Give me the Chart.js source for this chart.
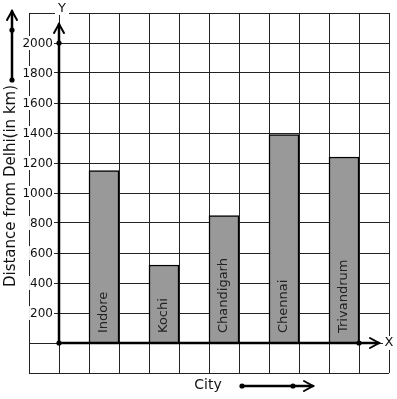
<!DOCTYPE html>
<html>
<head>
<meta charset="utf-8">
<script src="https://cdn.jsdelivr.net/npm/chart.js@4"></script>
<style>
  html, body { margin: 0; padding: 0; background: #fff; }
  #wrap { width: 397px; height: 399px; }
</style>
</head>
<body>
<div id="wrap"><canvas id="chart" width="397" height="399"></canvas></div>
<script>
// ============================================
// Data
// ============================================

const cities = ['Indore', 'Kochi', 'Chandigarh', 'Chennai', 'Trivandrum'];
const cityX = [1.5, 3.5, 5.5, 7.5, 9.5];        // centre of each bar in grid units
const distances = [1150, 520, 850, 1390, 1240];  // km from Delhi
const yTickLabels = [200, 400, 600, 800, 1000, 1200, 1400, 1600, 1800, 2000];

const FONT = "'DejaVu Sans', sans-serif";

// ============================================
// Drawing helpers
// ============================================

function dot(ctx, x, y) {
  ctx.beginPath();
  ctx.arc(x, y, 2.6, 0, Math.PI * 2);
  ctx.fill();
}

function chevron(ctx, tipX, tipY, dir) {
  // dir: 'up' or 'right'
  ctx.beginPath();
  if (dir === 'up') {
    ctx.moveTo(tipX - 5, tipY + 9);
    ctx.lineTo(tipX, tipY);
    ctx.lineTo(tipX + 5, tipY + 9);
  } else {
    ctx.moveTo(tipX - 9, tipY - 5);
    ctx.lineTo(tipX, tipY);
    ctx.lineTo(tipX - 9, tipY + 5);
  }
  ctx.stroke();
}

// axes, arrows, tick labels and bar labels drawn on top of the grid
const decorPlugin = {
  id: 'decor',
  afterDatasetsDraw(chart) {
    const ctx = chart.ctx;
    const xs = chart.scales.x;
    const ys = chart.scales.y;
    const ox = xs.getPixelForValue(0);
    const oy = ys.getPixelForValue(0);
    ctx.save();

    // y tick labels on white patches
    ctx.font = '12px ' + FONT;
    ctx.textAlign = 'right';
    ctx.textBaseline = 'middle';
    yTickLabels.forEach(v => {
      const py = ys.getPixelForValue(v);
      const w = ctx.measureText(String(v)).width;
      ctx.fillStyle = '#fff';
      ctx.fillRect(ox - 6 - w - 1, py - 7, w + 2, 14);
      ctx.fillStyle = '#111';
      ctx.fillText(String(v), ox - 6, py + 0.5);
    });

    // bar labels, rotated inside bars
    const meta = chart.getDatasetMeta(0);
    ctx.font = '13px ' + FONT;
    ctx.fillStyle = '#222';
    ctx.textAlign = 'left';
    ctx.textBaseline = 'middle';
    meta.data.forEach((bar, i) => {
      ctx.save();
      ctx.translate(bar.x, oy - 10);
      ctx.rotate(-Math.PI / 2);
      ctx.fillText(cities[i], 0, 0);
      ctx.restore();
    });

    // main axes
    ctx.strokeStyle = '#000';
    ctx.fillStyle = '#000';
    ctx.lineWidth = 2.5;
    ctx.lineCap = 'round';
    ctx.beginPath();
    ctx.moveTo(ox, oy);
    ctx.lineTo(ox, 24);
    ctx.moveTo(ox, oy);
    ctx.lineTo(379, oy);
    ctx.stroke();
    ctx.lineWidth = 2;
    chevron(ctx, ox, 24, 'up');
    chevron(ctx, 379, oy, 'right');
    dot(ctx, ox, oy);
    dot(ctx, ox, ys.getPixelForValue(2000));
    dot(ctx, xs.getPixelForValue(10), oy);

    // axis letters
    ctx.font = '13px ' + FONT;
    ctx.textAlign = 'center';
    ctx.textBaseline = 'middle';
    ctx.fillStyle = '#fff';
    ctx.fillRect(ox - 4, 2, 14, 13);
    ctx.fillStyle = '#111';
    ctx.fillText('Y', ox + 3, 9);
    ctx.fillStyle = '#fff';
    ctx.fillRect(383, oy - 7, 12, 14);
    ctx.fillStyle = '#111';
    ctx.fillText('X', 389, oy);

    // y title
    ctx.save();
    ctx.font = '15px ' + FONT;
    ctx.translate(11, 186);
    ctx.rotate(-Math.PI / 2);
    ctx.fillText('Distance from Delhi(in km)', 0, 0);
    ctx.restore();

    // x title
    ctx.font = '14px ' + FONT;
    ctx.fillText('City', 208, 385);

    // stray arrows
    ctx.strokeStyle = '#000';
    ctx.fillStyle = '#000';
    ctx.lineWidth = 2.5;
    ctx.beginPath();
    ctx.moveTo(12, 80);
    ctx.lineTo(12, 11);
    ctx.moveTo(242, 386);
    ctx.lineTo(313, 386);
    ctx.stroke();
    ctx.lineWidth = 2;
    chevron(ctx, 12, 11, 'up');
    chevron(ctx, 313, 386, 'right');
    dot(ctx, 12, 30);
    dot(ctx, 12, 80);
    dot(ctx, 242, 386);
    dot(ctx, 293, 386);

    ctx.restore();
  }
};

// ============================================
// Chart
// ============================================

new Chart(document.getElementById('chart'), {
  type: 'bar',
  data: {
    datasets: [{
      data: cityX.map((x, i) => ({ x, y: distances[i] })),
      backgroundColor: '#999999',
      borderColor: '#000',
      borderWidth: 1.5,
      borderSkipped: 'start',
      barPercentage: 1,
      categoryPercentage: 1
    }]
  },
  options: {
    responsive: false,
    animation: false,
    layout: { padding: { left: 29, right: 8, top: 13, bottom: 26 } },
    plugins: { legend: { display: false }, tooltip: { enabled: false } },
    scales: {
      x: {
        type: 'linear',
        min: -1,
        max: 11,
        offset: false,
        ticks: { display: false, stepSize: 1 },
        grid: { color: '#222', lineWidth: 1, drawTicks: false, offset: false },
        border: { display: false }
      },
      y: {
        min: -200,
        max: 2200,
        ticks: { display: false, stepSize: 200 },
        grid: { color: '#222', lineWidth: 1, drawTicks: false },
        border: { display: false }
      }
    }
  },
  plugins: [decorPlugin]
});
</script>
</body>
</html>
